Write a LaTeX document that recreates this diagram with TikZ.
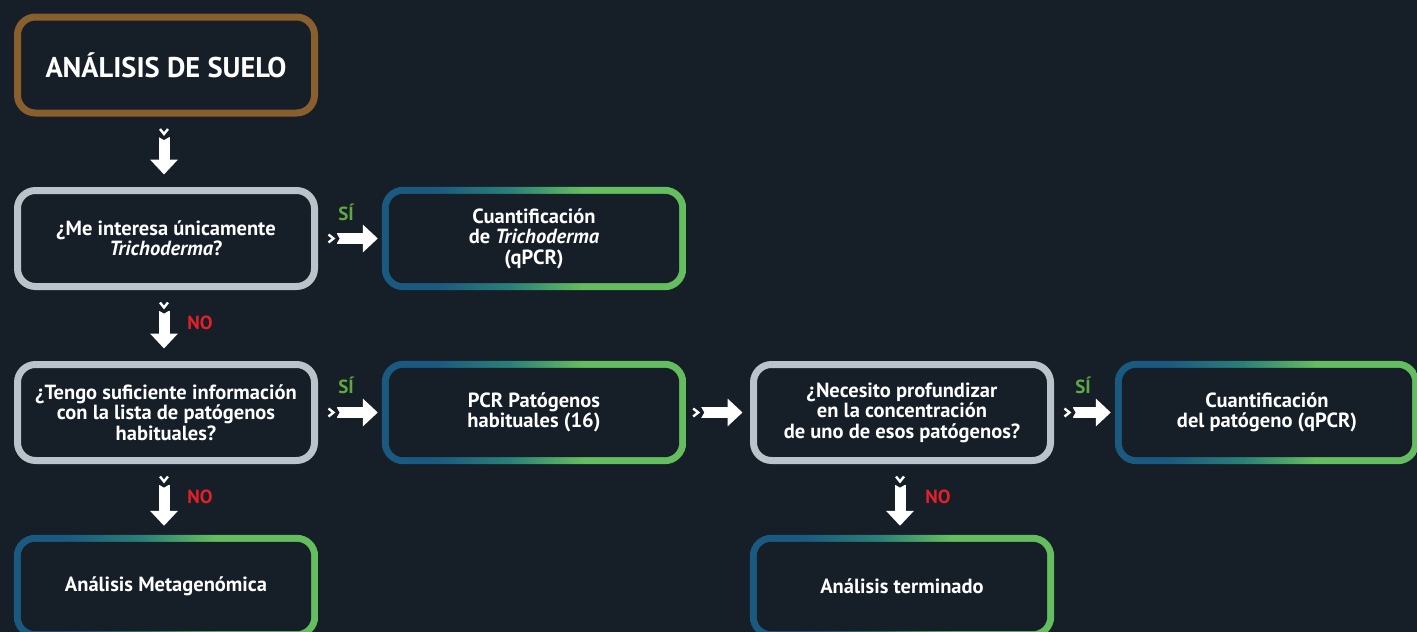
\documentclass[tikz,border=0pt]{standalone}
\usepackage{fontspec}
\setmainfont{PT Sans}
\usetikzlibrary{arrows.meta,decorations.markings}
\definecolor{bgc}{HTML}{161E28}
\definecolor{cgray}{HTML}{BAC3CA}
\definecolor{cbrown}{HTML}{8A5F2E}
\definecolor{cblue}{HTML}{1B5A80}
\definecolor{cteal}{HTML}{2A8078}
\definecolor{cgreen}{HTML}{64BD5F}
\definecolor{sigreen}{HTML}{5FA842}
\definecolor{nored}{HTML}{E3202A}
\pgfdeclarelayer{background}
\pgfsetlayers{background,main}
\pgfdeclarehorizontalshading{bgshade}{100bp}{color(0bp)=(cblue); color(34bp)=(cblue); color(46bp)=(cteal); color(58bp)=(cgreen); color(100bp)=(cgreen)}
\tikzset{
  box/.style={minimum width=297pt, minimum height=96pt, inner sep=0pt, align=center,
    text=white, font=\bfseries\fontsize{20.5}{20.5}\selectfont},
  qbox/.style={box, draw=cgray, line width=7pt, rounded corners=18pt},
  startbox/.style={box, draw=cbrown, line width=7pt, rounded corners=18pt,
    font=\bfseries\fontsize{28.5}{30}\selectfont},
  gbox/.style={box},
  silab/.style={text=sigreen, font=\bfseries\fontsize{19}{20}\selectfont, inner sep=0pt},
  nolab/.style={text=nored, font=\bfseries\fontsize{19}{20}\selectfont, inner sep=0pt},
  conn/.style={draw=white, line width=11pt, -{Triangle[width=27pt,length=15pt]},
    postaction={decorate},
    decoration={markings, mark=at position 0 with {
      \fill[bgc] (-0.5pt,6.1pt)--(3pt,0pt)--(-0.5pt,-6.1pt)--cycle;
      \draw[-, white,line width=2.4pt,line cap=butt,line join=miter] (-8pt,4pt)--(-3pt,0pt)--(-8pt,-4pt);
    }}}
}
\newcommand{\gframe}[1]{%
  \shade[shading=bgshade, rounded corners=21.5pt]
    ([shift={(-3.5pt,3.5pt)}]#1.north west) rectangle ([shift={(3.5pt,-3.5pt)}]#1.south east);
  \fill[bgc, rounded corners=14.5pt]
    ([shift={(3.5pt,-3.5pt)}]#1.north west) rectangle ([shift={(-3.5pt,3.5pt)}]#1.south east);}
\begin{document}
\begin{tikzpicture}[x=1pt,y=-1pt]
\useasboundingbox (0,0) rectangle (1417,632);

\node[startbox] (top) at (166,65) {ANÁLISIS DE SUELO};
\node[qbox] (q1) at (166,238.5) {¿Me interesa únicamente\\\textit{Trichoderma}?};
\node[gbox] (t1) at (534,238.5) {Cuantificación\\de \textit{Trichoderma}\\(qPCR)};
\node[qbox] (q2) at (166,412.5) {¿Tengo suficiente información\\con la lista de patógenos\\habituales?};
\node[gbox] (pcr) at (534,412.5) {PCR Patógenos\\habituales (16)};
\node[qbox] (q3) at (902,412.5) {¿Necesito profundizar\\en la concentración\\de uno de esos patógenos?};
\node[gbox] (cp) at (1267,412.5) {Cuantificación\\del patógeno (qPCR)};
\node[gbox] (meta) at (166,586.5) {\raisebox{-2pt}{Análisis Metagenómica}};
\node[gbox] (term) at (902,586.5) {\raisebox{-2pt}{Análisis terminado}};

\begin{pgfonlayer}{background}
\fill[bgc] (0,0) rectangle (1417,632);
\gframe{t1}\gframe{pcr}\gframe{cp}\gframe{meta}\gframe{term}
\end{pgfonlayer}

\node[silab] (s1) at (346,212) {SÍ};
\node[silab] (s2) at (346,385) {SÍ};
\node[silab] (s3) at (1083,385) {SÍ};
\node[nolab] (n1) at (200,323) {NO};
\node[nolab] (n2) at (200,497) {NO};
\node[nolab] (n3) at (938,497) {NO};

\draw[conn] ([shift={(-2pt,-20.5pt)}]top.south) -- ([shift={(-2pt,12.5pt)}]q1.north);
\draw[conn] ([shift={(-2pt,-20.5pt)}]q1.south) -- ([shift={(-2pt,12.5pt)}]q2.north);
\draw[conn] ([shift={(-2pt,-20.5pt)}]q2.south) -- ([shift={(-2pt,12.5pt)}]meta.north);
\draw[conn] ([shift={(-2pt,-20.5pt)}]q3.south) -- ([shift={(-2pt,12.5pt)}]term.north);
\draw[conn] ([xshift=18.5pt]q1.east) -- ([xshift=-7.5pt]t1.west);
\draw[conn] ([xshift=18.5pt]q2.east) -- ([xshift=-7.5pt]pcr.west);
\draw[conn] ([xshift=18.5pt]pcr.east) -- ([xshift=-7.5pt]q3.west);
\draw[conn] ([xshift=18.5pt]q3.east) -- ([xshift=-7.5pt]cp.west);
\end{tikzpicture}
\end{document}
